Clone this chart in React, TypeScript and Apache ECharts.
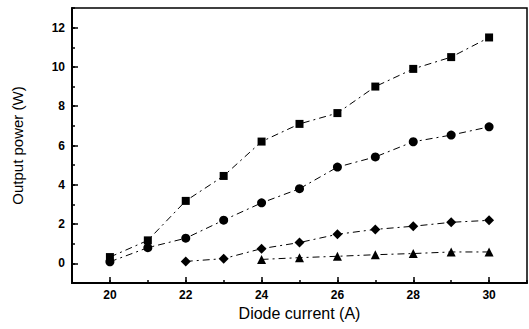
import React, { useEffect, useRef } from "react";
import * as echarts from "echarts";

const current = [20, 21, 22, 23, 24, 25, 26, 27, 28, 29, 30];
const squares = [0.32, 1.17, 3.18, 4.45, 6.2, 7.1, 7.65, 9.0, 9.9, 10.5, 11.5];
const circles = [0.08, 0.8, 1.28, 2.2, 3.08, 3.8, 4.9, 5.42, 6.19, 6.53, 6.95];
const diamonds = [null, null, 0.1, 0.24, 0.75, 1.06, 1.48, 1.73, 1.89, 2.09, 2.19];
const triangles = [null, null, null, null, 0.2, 0.29, 0.36, 0.44, 0.5, 0.58, 0.58];
const xLabels = [20, 22, 24, 26, 28, 30];
const yLabels = [0, 2, 4, 6, 8, 10, 12];

const FONT = "'Liberation Sans', Arial, sans-serif";

function pairs(vals: (number | null)[]) {
  return current.map((x, i) => [x, vals[i]]).filter((p) => p[1] !== null);
}

export default function App() {
  const ref = useRef<HTMLDivElement>(null);
  useEffect(() => {
    if (!ref.current) return;
    const chart = echarts.init(ref.current, undefined, { renderer: "svg" });
    const lineStyle = { color: "#000", width: 1, type: [7, 4, 2, 4] as any };
    const mk = (name: string, data: any, symbol: string, size: number) => ({
      type: "line",
      name,
      data: pairs(data),
      symbol,
      symbolSize: size,
      itemStyle: { color: "#000" },
      lineStyle,
      z: 5,
    });
    chart.setOption({
      animation: false,
      backgroundColor: "#fff",
      grid: {
        left: 72,
        right: 2,
        top: 8,
        bottom: 46,
        show: true,
        borderColor: "#000",
        borderWidth: 1.5,
        backgroundColor: "transparent",
      },
      xAxis: [
        {
          type: "value",
          min: 19,
          max: 31,
          interval: 1,
          name: "Diode current (A)",
          nameLocation: "middle",
          nameGap: 22,
          nameTextStyle: { color: "#000", fontSize: 16, fontFamily: FONT },
          axisLine: { show: true, onZero: false, lineStyle: { color: "#000", width: 2 } },
          axisTick: { show: true, inside: true, length: 3, lineStyle: { color: "#000", width: 1.5 } },
          axisLabel: {
            customValues: xLabels,
            color: "#000",
            fontSize: 12,
            fontWeight: "bold",
            fontFamily: FONT,
            margin: 6,
          },
          splitLine: { show: false },
        },
        {
          type: "value",
          min: 19,
          max: 31,
          position: "bottom",
          axisLine: { show: false, onZero: false },
          axisTick: {
            show: true,
            inside: true,
            length: 6,
            customValues: xLabels,
            lineStyle: { color: "#000", width: 1.5 },
          },
          axisLabel: { show: false },
          splitLine: { show: false },
        },
      ],
      yAxis: [
        {
          type: "value",
          min: -1,
          max: 13,
          interval: 1,
          name: "Output power (W)",
          nameLocation: "middle",
          nameGap: 47,
          nameTextStyle: { color: "#000", fontSize: 15, fontFamily: FONT },
          axisLine: { show: true, onZero: false, lineStyle: { color: "#000", width: 2 } },
          axisTick: { show: true, inside: true, length: 3, lineStyle: { color: "#000", width: 1.5 } },
          axisLabel: {
            customValues: yLabels,
            color: "#000",
            fontSize: 12,
            fontWeight: "bold",
            fontFamily: FONT,
            margin: 7,
          },
          splitLine: { show: false },
        },
        {
          type: "value",
          min: -1,
          max: 13,
          position: "left",
          axisLine: { show: false, onZero: false },
          axisTick: {
            show: true,
            inside: true,
            length: 6,
            customValues: yLabels,
            lineStyle: { color: "#000", width: 1.5 },
          },
          axisLabel: { show: false },
          splitLine: { show: false },
        },
      ],
      series: [
        mk("squares", squares, "rect", 8),
        mk("circles", circles, "circle", 9),
        mk("diamonds", diamonds, "diamond", 10),
        mk("triangles", triangles, "triangle", 9),
      ],
    });
    return () => chart.dispose();
  }, []);
  return <div ref={ref} style={{ width: 529, height: 329, position: "absolute", left: 0, top: 0 }} />;
}
